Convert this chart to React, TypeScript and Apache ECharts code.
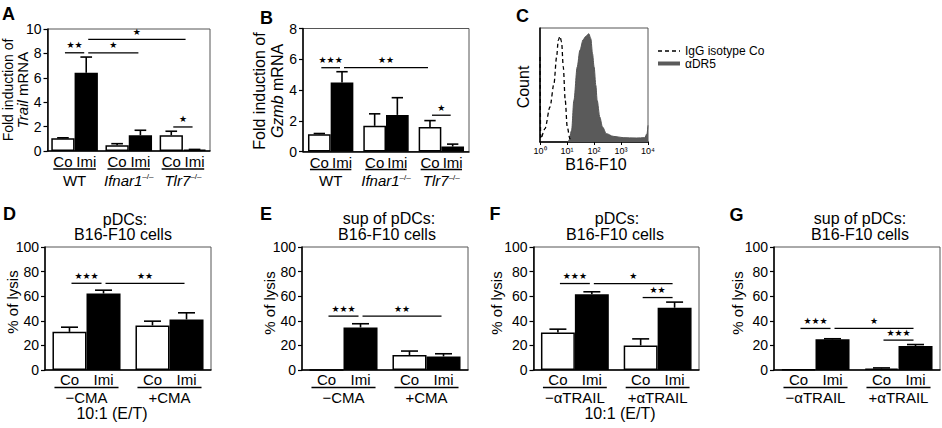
import React, { useEffect, useRef } from 'react';
import * as echarts from 'echarts';

const FONT = '"Liberation Sans", Arial, Helvetica, sans-serif';
const STAR_FONT = '"DejaVu Sans", sans-serif';

// ---- A: Trail mRNA fold induction ----
const groupsA = ['WT', 'Ifnar1', 'Tlr7'];
const coA = [1.05, 0.47, 1.29];
const coErrA = [0.03, 0.13, 0.33];
const imiA = [6.41, 1.29, 0.11];
const imiErrA = [1.29, 0.41, 0.02];
// [from bar, to bar, height]; bars numbered per group as Co/Imi: 0,1 | 2,3 | 4,5
const sigA = [[0, 1, 8.05], [1, 3, 8.05], [1, 4.7, 9.15], [4, 5, 1.97]];
const sigTextA = ['**', '*', '*', '*'];

// ---- B: Gzmb mRNA fold induction ----
const groupsB = ['WT', 'Ifnar1', 'Tlr7'];
const coB = [1.12, 1.67, 1.6];
const coErrB = [0.05, 0.78, 0.41];
const imiB = [4.48, 2.38, 0.32];
const imiErrB = [0.71, 1.12, 0.16];
const sigB = [[0, 1, 5.45], [1, 4, 5.45], [4, 5, 2.36]];
const sigTextB = ['***', '**', '*'];

// ---- C: DR5 staining histogram (fluorescence, % of max count) ----
const isotypeHist = [
  [1, 74.6], [1.06, 2.9], [1.53, 11.7], [2.34, 30.7], [3.29, 51.2], [4.12, 74.6],
  [4.75, 89.2], [5.47, 92.7], [6.31, 87.7], [7.28, 65.8], [8.61, 36.5], [10.2, 13.2],
  [12.8, 2.9], [17, 0.9],
];
const dr5Hist = [
  [10.8, 0], [11.8, 1.5], [14.8, 10.2], [18, 36.5], [23.9, 65.8], [30, 80.4], [39.8, 89.8],
  [49.9, 92.7], [64.4, 95], [76.4, 90.6], [88.1, 77.5], [101, 65.8], [117, 49.7],
  [131, 36.5], [164, 21.9], [206, 13.2], [290, 7.3], [511, 5], [1194, 3.8],
  [3707, 3.5], [7534, 3.8], [9183, 7.3], [10000, 14.6],
];
const histLegend = ['IgG isotype Co', '\u03b1DR5'];

// ---- D: pDC lysis, CMA ----
const groupsD = ['\u2212CMA', '+CMA'];
const coD = [31, 36.2];
const coErrD = [3.8, 3.5];
const imiD = [62.2, 41.1];
const imiErrD = [2.7, 5.4];
const sigD = [[0, 1, 70.5], [1, 3, 70.5]];
const sigTextD = ['***', '**'];

// ---- E: pDC supernatant lysis, CMA ----
const groupsE = ['\u2212CMA', '+CMA'];
const coE = [0, 12.2];
const coErrE = [0, 3.2];
const imiE = [34.6, 11];
const imiErrE = [3, 2.2];
const sigE = [[0, 1, 43.8], [1, 3, 43.8]];
const sigTextE = ['***', '**'];

// ---- F: pDC lysis, anti-TRAIL ----
const groupsF = ['\u2212\u03b1TRAIL', '+\u03b1TRAIL'];
const coF = [30.4, 20];
const coErrF = [2.8, 5.3];
const imiF = [61.6, 50.6];
const imiErrF = [2, 4.6];
const sigF = [[0, 1, 70.3], [1, 3, 70.3], [2, 3, 58.9]];
const sigTextF = ['***', '*', '**'];

// ---- G: pDC supernatant lysis, anti-TRAIL ----
const groupsG = ['\u2212\u03b1TRAIL', '+\u03b1TRAIL'];
const coG = [0.6, 1.2];
const coErrG = [0, 0.5];
const imiG = [24.9, 19.5];
const imiErrG = [0.5, 1.2];
const sigG = [[0, 1, 33.8], [1, 3, 33.8], [2, 3, 24.3]];
const sigTextG = ['***', '*', '***'];

const knockouts = ['Ifnar1', 'Tlr7'];

const grids = [
  { left: 47.5, top: 29, width: 162.5, height: 122 }, // A
  { left: 303, top: 28.5, width: 166, height: 123 }, // B
  { left: 540, top: 28, width: 108, height: 114 }, // C
  { left: 45, top: 247, width: 166, height: 123 }, // D
  { left: 302, top: 247, width: 166, height: 123 }, // E
  { left: 533.5, top: 247, width: 165.5, height: 123 }, // F
  { left: 774, top: 247, width: 166, height: 123 }, // G
];

const topOffsets = { co: 10.8, line: 18, group: 29 };
const bottomOffsets = { co: 9.5, line: 17.5, group: 27 };

const barPanels = [
  { grid: 0, groups: groupsA, co: coA, coErr: coErrA, imi: imiA, imiErr: imiErrA, sig: sigA, sigText: sigTextA, max: 10, interval: 2, gap: 0.14, off: topOffsets },
  { grid: 1, groups: groupsB, co: coB, coErr: coErrB, imi: imiB, imiErr: imiErrB, sig: sigB, sigText: sigTextB, max: 8, interval: 2, gap: 0.18, off: topOffsets },
  { grid: 3, groups: groupsD, co: coD, coErr: coErrD, imi: imiD, imiErr: imiErrD, sig: sigD, sigText: sigTextD, max: 100, interval: 20, gap: 0.18, off: bottomOffsets },
  { grid: 4, groups: groupsE, co: coE, coErr: coErrE, imi: imiE, imiErr: imiErrE, sig: sigE, sigText: sigTextE, max: 100, interval: 20, gap: 0.18, off: bottomOffsets },
  { grid: 5, groups: groupsF, co: coF, coErr: coErrF, imi: imiF, imiErr: imiErrF, sig: sigF, sigText: sigTextF, max: 100, interval: 20, gap: 0.18, off: bottomOffsets },
  { grid: 6, groups: groupsG, co: coG, coErr: coErrG, imi: imiG, imiErr: imiErrG, sig: sigG, sigText: sigTextG, max: 100, interval: 20, gap: 0.18, off: bottomOffsets },
];

const SUP = ['\u2070', '\u00b9', '\u00b2', '\u00b3', '\u2074'];

const groupRich = {
  n: { fontSize: 15, fontFamily: FONT, fill: '#000' },
  i: { fontSize: 15, fontFamily: FONT, fontStyle: 'italic', fill: '#000' },
  s: { fontSize: 8, fontFamily: FONT, fill: '#000', verticalAlign: 'top' },
};

function groupLabel(name: string) {
  if (knockouts.indexOf(name) >= 0) return `{i|${name}}{s|\u2013/\u2013}`;
  return `{n|${name}}`;
}

function txt(text: string, x: number, y: number, font: string, extra: any = {}) {
  return {
    type: 'text',
    style: {
      text, x, y, font, fill: '#000',
      align: 'center', verticalAlign: 'middle',
      textAlign: 'center', textVerticalAlign: 'middle',
      ...extra,
    },
  };
}

function gText(text: string, x: number, y: number, font: string, opts: any = {}) {
  const align = opts.align || 'center';
  return {
    type: 'text',
    x, y,
    rotation: opts.rot || 0,
    silent: true,
    style: {
      text, x: 0, y: 0, font, fill: '#000',
      align, verticalAlign: 'middle',
      textAlign: align, textVerticalAlign: 'middle',
      rich: opts.rich,
    },
  };
}

function barGeom(api: any, gap: number) {
  const band = api.size([1, 0])[0];
  return band * (1 - gap) / 2;
}

function barCenter(api: any, b: number, barW: number) {
  const g = Math.floor(b / 2);
  const k = b - 2 * g;
  return api.coord([g, 0])[0] + (k - 0.5) * barW;
}

function buildOption() {
  const xAxis: any[] = [];
  const yAxis: any[] = [];
  const series: any[] = [];

  const axisLine = { show: true, onZero: false, lineStyle: { color: '#000', width: 1.5 } };

  barPanels.forEach((p) => {
    xAxis.push({
      type: 'category', gridIndex: p.grid, data: p.groups,
      axisLine, axisTick: { show: false }, axisLabel: { show: false }, splitLine: { show: false },
    });
    yAxis.push({
      type: 'value', gridIndex: p.grid, min: 0, max: p.max, interval: p.interval,
      axisLine,
      axisTick: { show: true, length: 4, lineStyle: { color: '#000', width: 1.2 } },
      axisLabel: { color: '#000', fontSize: 14, fontFamily: FONT, margin: 6 },
      splitLine: { show: false },
    });
    const ax = xAxis.length - 1;
    const gapPct = `${p.gap * 100}%`;
    series.push({
      type: 'bar', xAxisIndex: ax, yAxisIndex: ax, data: p.co,
      barGap: '0%', barCategoryGap: gapPct, z: 2,
      itemStyle: { color: '#fff', borderColor: '#000', borderWidth: 1.5 },
    });
    series.push({
      type: 'bar', xAxisIndex: ax, yAxisIndex: ax, data: p.imi,
      barGap: '0%', barCategoryGap: gapPct, z: 2,
      itemStyle: { color: '#000', borderColor: '#000', borderWidth: 1.5 },
    });

    // error bars (mean + SEM)
    const errData: number[][] = [];
    p.groups.forEach((_, g) => {
      errData.push([g, 0, p.co[g], p.coErr[g]]);
      errData.push([g, 1, p.imi[g], p.imiErr[g]]);
    });
    series.push({
      type: 'custom', xAxisIndex: ax, yAxisIndex: ax, z: 3, clip: false,
      data: errData, encode: { x: 0, y: 2 }, silent: true,
      renderItem: (params: any, api: any) => {
        const g = api.value(0);
        const side = api.value(1);
        const v = api.value(2);
        const e = api.value(3);
        if (!e) return { type: 'group', children: [] };
        const barW = barGeom(api, p.gap);
        const cx = api.coord([g, 0])[0] + (side - 0.5) * barW;
        const y0 = api.coord([g, v])[1];
        const y1 = api.coord([g, v + e])[1];
        const half = barW * 0.25;
        const st = { stroke: '#000', lineWidth: 1.6 };
        return {
          type: 'group',
          children: [
            { type: 'line', shape: { x1: cx, y1: y0, x2: cx, y2: y1 }, style: st },
            { type: 'line', shape: { x1: cx - half, y1: y1, x2: cx + half, y2: y1 }, style: st },
          ],
        };
      },
    });

    // significance brackets
    series.push({
      type: 'custom', xAxisIndex: ax, yAxisIndex: ax, z: 3, clip: false,
      data: p.sig.map((s) => [s[2], s[0], s[1]]), encode: { y: 0 }, silent: true,
      renderItem: (params: any, api: any) => {
        const y = api.value(0);
        const from = api.value(1);
        const to = api.value(2);
        const barW = barGeom(api, p.gap);
        const x1 = barCenter(api, from, barW) + 2;
        const x2 = barCenter(api, to, barW) - 2;
        const py = api.coord([0, y])[1];
        const stars = p.sigText[params.dataIndex].replace(/\*/g, '\u2605');
        return {
          type: 'group',
          children: [
            { type: 'line', shape: { x1, y1: py, x2, y2: py }, style: { stroke: '#000', lineWidth: 1.3 } },
            txt(stars, (x1 + x2) / 2, py - 3, `9px ${STAR_FONT}`, { verticalAlign: 'bottom', textVerticalAlign: 'bottom' }),
          ],
        };
      },
    });

    // Co / Imi labels, underline and group name
    series.push({
      type: 'custom', xAxisIndex: ax, yAxisIndex: ax, z: 3, clip: false,
      data: p.groups.map((_, g) => [g, 0]), encode: { x: 0, y: 1 }, silent: true,
      renderItem: (params: any, api: any) => {
        const g = api.value(0);
        const barW = barGeom(api, p.gap);
        const c = api.coord([g, 0]);
        const cx = c[0];
        const yb = c[1];
        const o = p.off;
        return {
          type: 'group',
          children: [
            txt('Co', cx - barW / 2, yb + o.co, `15px ${FONT}`),
            txt('Imi', cx + barW / 2, yb + o.co, `15px ${FONT}`),
            {
              type: 'line',
              shape: { x1: cx - barW + 2, y1: yb + o.line, x2: cx + barW - 2, y2: yb + o.line },
              style: { stroke: '#000', lineWidth: 1.3 },
            },
            txt(groupLabel(p.groups[g]), cx, yb + o.group, `15px ${FONT}`, { rich: groupRich }),
          ],
        };
      },
    });
  });

  // C: histogram on a log axis
  xAxis.push({
    type: 'log', logBase: 10, gridIndex: 2, min: 1, max: 10000,
    axisLine,
    axisTick: { show: true, length: 3, lineStyle: { color: '#000', width: 1 } },
    axisLabel: {
      color: '#000', fontSize: 9, fontFamily: FONT, margin: 4,
      formatter: (v: number) => '10' + SUP[Math.round(Math.log10(v))],
    },
    splitLine: { show: false }, minorTick: { show: false },
  });
  yAxis.push({
    type: 'value', gridIndex: 2, min: 0, max: 100,
    axisLine, axisTick: { show: false }, axisLabel: { show: false }, splitLine: { show: false },
  });
  const cAx = xAxis.length - 1;
  series.push({
    type: 'line', xAxisIndex: cAx, yAxisIndex: cAx, data: dr5Hist, showSymbol: false,
    smooth: 0.3, smoothMonotone: 'x', z: 2,
    lineStyle: { color: '#555', width: 1 },
    areaStyle: { color: '#5a5a5a', opacity: 1 },
  });
  series.push({
    type: 'line', xAxisIndex: cAx, yAxisIndex: cAx, data: isotypeHist, showSymbol: false,
    smooth: 0.3, smoothMonotone: 'x', z: 3,
    lineStyle: { color: '#000', width: 1.3, type: [4, 3] },
  });

  const grid = grids.map((g) => ({ ...g, show: true, borderColor: '#555', borderWidth: 1, backgroundColor: 'transparent' }));

  const letter = 'bold 18px ' + FONT;
  const title = '16px ' + FONT;
  const yRich = {
    n: { fontSize: 16, fontFamily: FONT, fill: '#000' },
    i: { fontSize: 16, fontFamily: FONT, fontStyle: 'italic', fill: '#000' },
  };
  const yRichA = {
    n: { fontSize: 15, fontFamily: FONT, fill: '#000' },
    i: { fontSize: 15, fontFamily: FONT, fontStyle: 'italic', fill: '#000' },
  };
  const R = Math.PI / 2;

  const graphic = [
    // panel letters
    gText('A', 8.5, 14, letter),
    gText('B', 266.5, 18, letter),
    gText('C', 522.5, 15.5, letter),
    gText('D', 9.5, 213.5, letter),
    gText('E', 266, 214, letter),
    gText('F', 495, 214, letter),
    gText('G', 736.5, 215, letter),

    // y-axis titles
    gText('Fold induction of', 8, 90, '14px ' + FONT, { rot: R }),
    gText('{i|Trail}{n| mRNA}', 22, 90, '15px ' + FONT, { rot: R, rich: yRichA }),
    gText('Fold induction of', 259.5, 91, title, { rot: R }),
    gText('{i|Gzmb}{n| mRNA}', 277, 91, title, { rot: R, rich: yRich }),
    gText('Count', 523, 87, title, { rot: R }),
    gText('% of lysis', 12, 302, '15px ' + FONT, { rot: R }),
    gText('% of lysis', 269, 303, '15px ' + FONT, { rot: R }),
    gText('% of lysis', 496, 303, '15px ' + FONT, { rot: R }),
    gText('% of lysis', 737.5, 303, '15px ' + FONT, { rot: R }),

    // C axis title and legend
    gText('B16-F10', 596, 164.5, title),
    { type: 'line', silent: true, shape: { x1: 658, y1: 51, x2: 680, y2: 51 }, style: { stroke: '#000', lineWidth: 1.3, lineDash: [4, 3] } },
    gText(histLegend[0], 685, 51, '12px ' + FONT, { align: 'left' }),
    { type: 'line', silent: true, shape: { x1: 658, y1: 63.5, x2: 680, y2: 63.5 }, style: { stroke: '#5a5a5a', lineWidth: 4 } },
    gText(histLegend[1], 685, 63.5, '12px ' + FONT, { align: 'left' }),

    // bottom row titles
    gText('pDCs:', 125, 219, title),
    gText('B16-F10 cells', 123, 234.5, title),
    gText('sup of pDCs:', 389, 218.5, title),
    gText('B16-F10 cells', 387, 234, title),
    gText('pDCs:', 617, 218.5, title),
    gText('B16-F10 cells', 615, 234, title),
    gText('sup of pDCs:', 860, 218, title),
    gText('B16-F10 cells', 860, 234, title),

    // effector : target ratio
    gText('10:1 (E/T)', 112, 413, title),
    gText('10:1 (E/T)', 620, 413, title),
  ];

  return {
    animation: false,
    backgroundColor: '#fff',
    textStyle: { fontFamily: FONT },
    grid,
    xAxis,
    yAxis,
    series,
    graphic,
  };
}

export default function App() {
  const ref = useRef<HTMLDivElement>(null);
  useEffect(() => {
    document.body.style.margin = '0';
    const chart = echarts.init(ref.current as HTMLDivElement, null, { renderer: 'svg' });
    chart.setOption(buildOption() as any);
    return () => chart.dispose();
  }, []);
  return <div ref={ref} style={{ width: 942, height: 428, background: '#fff' }} />;
}
